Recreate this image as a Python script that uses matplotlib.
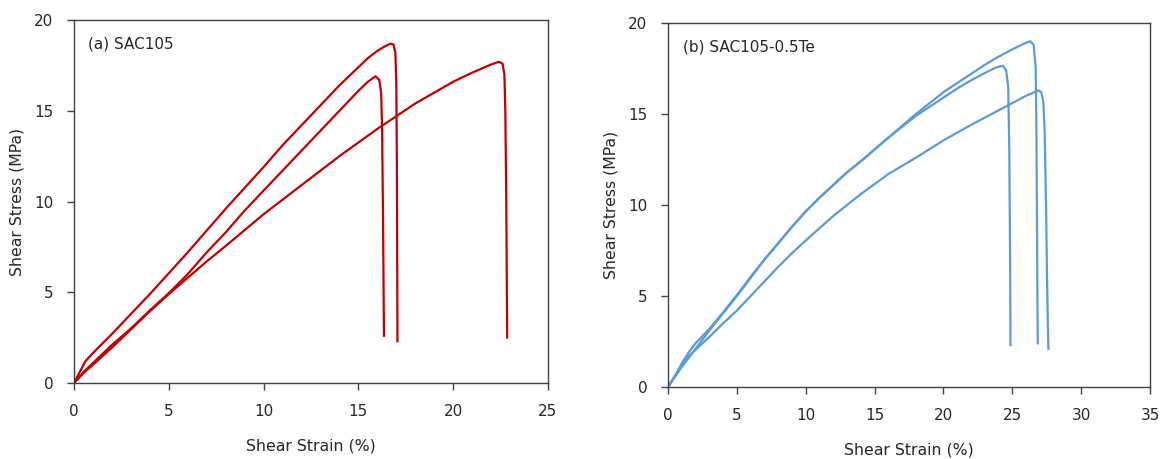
import matplotlib
matplotlib.use("Agg")
import matplotlib.pyplot as plt

# (a) SAC105 - three specimens
a1_strain = [0, 0.3, 0.6, 1.0, 2, 3, 4, 5, 6, 7, 8, 9, 10, 11, 12, 13, 14, 15, 15.5, 16, 16.4, 16.7,
             16.85, 16.95, 17.0, 17.03, 17.05, 17.06]
a1_stress = [0, 0.6, 1.2, 1.65, 2.7, 3.8, 4.9, 6.05, 7.2, 8.4, 9.6, 10.75, 11.9, 13.1, 14.2, 15.3, 16.4,
             17.4, 17.9, 18.3, 18.55, 18.7, 18.65, 18.2, 16.5, 12, 6, 2.3]
a2_strain = [0, 0.5, 1, 2, 3, 4, 5, 6, 7, 8, 9, 10, 11, 12, 13, 14, 15, 15.5, 15.9, 16.1, 16.2, 16.25,
             16.3, 16.33, 16.35]
a2_stress = [0, 0.6, 1.1, 2.1, 3.0, 4.0, 4.95, 6.0, 7.2, 8.3, 9.5, 10.6, 11.7, 12.8, 13.9, 15.0, 16.1,
             16.6, 16.9, 16.7, 16.0, 14, 9, 5, 2.6]
a3_strain = [0, 0.5, 1, 2, 3, 4, 5, 6, 7, 8, 10, 12, 14, 16, 18, 20, 21, 22, 22.4, 22.6, 22.7, 22.75,
             22.8, 22.83, 22.85]
a3_stress = [0, 0.55, 1.0, 1.95, 2.95, 3.95, 4.9, 5.8, 6.7, 7.55, 9.3, 10.9, 12.5, 14.0, 15.4, 16.6,
             17.1, 17.55, 17.7, 17.6, 17.0, 15, 10, 5, 2.5]

# (b) SAC105-0.5Te - three specimens
b1_strain = [0, 0.5, 1, 1.5, 2, 2.5, 3, 4, 5, 6, 7, 8, 9, 10, 11, 12, 13, 14, 15, 16, 17, 18, 19, 20,
             21, 22, 23, 24, 25, 25.8, 26.3, 26.55, 26.7, 26.75, 26.8, 26.83, 26.85]
b1_stress = [0, 0.6, 1.3, 1.9, 2.4, 2.8, 3.2, 4.1, 5.05, 6.05, 7.0, 7.9, 8.8, 9.65, 10.4, 11.1, 11.8,
             12.4, 13.05, 13.7, 14.35, 15.0, 15.6, 16.2, 16.7, 17.2, 17.7, 18.15, 18.55, 18.85, 19.0,
             18.8, 17.5, 14, 8, 4, 2.4]
b2_strain = [0, 1, 2, 3, 4, 5, 6, 7, 8, 9, 10, 11, 12, 13, 14, 15, 16, 17, 18, 19, 20, 21, 22, 23,
             23.8, 24.3, 24.55, 24.7, 24.78, 24.83, 24.86, 24.87]
b2_stress = [0, 1.1, 2.1, 3.1, 4.05, 5.0, 6.0, 7.0, 7.9, 8.8, 9.65, 10.4, 11.1, 11.8, 12.4, 13.05,
             13.7, 14.3, 14.9, 15.4, 15.9, 16.4, 16.85, 17.25, 17.55, 17.65, 17.4, 16.5, 13, 8, 4, 2.3]
b3_strain = [0, 0.5, 1, 1.5, 2, 3, 4, 5, 6, 7, 8, 9, 10, 12, 14, 16, 18, 20, 22, 24, 25, 26, 26.6,
             26.9, 27.1, 27.25, 27.35, 27.45, 27.52, 27.58, 27.62]
b3_stress = [0, 0.6, 1.2, 1.7, 2.05, 2.75, 3.5, 4.2, 5.0, 5.8, 6.6, 7.35, 8.05, 9.4, 10.6, 11.7, 12.6,
             13.55, 14.4, 15.2, 15.6, 16.0, 16.2, 16.3, 16.2, 15.7, 14, 10, 6, 3.5, 2.1]

red = "#C00000"
blue = "#5B9BD5"
spine = "#404040"

fig = plt.figure(figsize=(11.6, 4.59), dpi=100)
ax1 = fig.add_axes([0.0638, 0.1656, 0.4086, 0.7908])
ax2 = fig.add_axes([0.5759, 0.1569, 0.4155, 0.7930])

for s, t in [(a1_strain, a1_stress), (a2_strain, a2_stress), (a3_strain, a3_stress)]:
    ax1.plot(s, t, color=red, lw=1.6, solid_joinstyle="round")
for s, t in [(b1_strain, b1_stress), (b2_strain, b2_stress), (b3_strain, b3_stress)]:
    ax2.plot(s, t, color=blue, lw=1.6, solid_joinstyle="round")

ax1.set_xlim(0, 25)
ax1.set_xticks([0, 5, 10, 15, 20, 25])
ax2.set_xlim(0, 35)
ax2.set_xticks([0, 5, 10, 15, 20, 25, 30, 35])

for ax, label in [(ax1, "(a) SAC105"), (ax2, "(b) SAC105-0.5Te")]:
    ax.set_ylim(0, 20)
    ax.set_yticks([0, 5, 10, 15, 20])
    ax.set_xlabel("Shear Strain (%)", fontsize=11.3, color="#262626", labelpad=14)
    ax.set_ylabel("Shear Stress (MPa)", fontsize=11.3, color="#262626", labelpad=7)
    ax.tick_params(direction="out", length=5, width=1, colors=spine, labelsize=11,
                   labelcolor="#262626", pad=10)
    for sp in ax.spines.values():
        sp.set_color(spine)
        sp.set_linewidth(1)
    ax.text(0.03, 0.935, label, transform=ax.transAxes, fontsize=11, color="#262626",
            va="center", ha="left")

fig.savefig("out.png", dpi=100)
